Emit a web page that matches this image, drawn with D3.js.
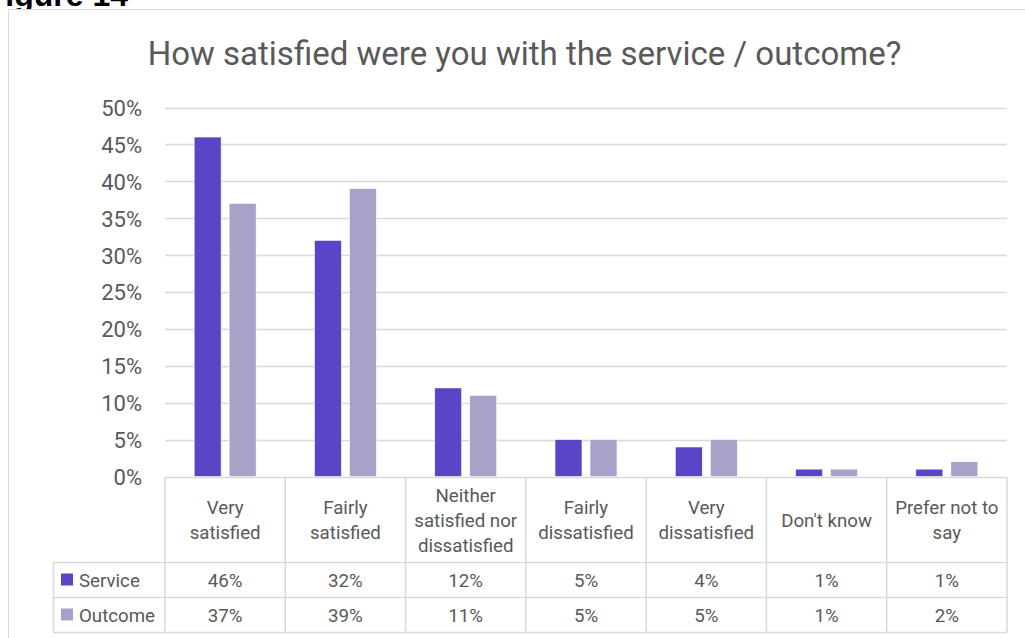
<!DOCTYPE html>
<html>
<head>
<meta charset="utf-8">
<script src="https://cdn.jsdelivr.net/npm/d3@7"></script>
<style>
  html, body { margin: 0; padding: 0; background: #fff; }
  svg { display: block; }
  text { font-family: Roboto, "Liberation Sans", Arial, sans-serif; fill: #595959; }
</style>
</head>
<body>
<svg id="chart" width="1025" height="638"></svg>
<script>
// Survey responses, share of respondents
const categories = [
  ["Very", "satisfied"],
  ["Fairly", "satisfied"],
  ["Neither", "satisfied nor", "dissatisfied"],
  ["Fairly", "dissatisfied"],
  ["Very", "dissatisfied"],
  ["Don't know"],
  ["Prefer not to", "say"]
];
const seriesNames = ["Service", "Outcome"];
const serviceValues = [46, 32, 12, 5, 4, 1, 1];
const outcomeValues = [37, 39, 11, 5, 5, 1, 2];
const yTicks = [0, 5, 10, 15, 20, 25, 30, 35, 40, 45, 50];
const titleText = "How satisfied were you with the service / outcome?";
const figureLabel = "Figure 14";

const colors = { Service: "#5B45C7", Outcome: "#A7A2C8" };
const grid = "#d9d9d9";
const tableFont = "18.7px";

const svg = d3.select("#chart");

// Caption above the chart frame (page scrolled so only its lower edge shows)
svg.append("text")
  .attr("x", 128).attr("y", 6)
  .attr("text-anchor", "end")
  .style("font-family", "'Liberation Sans', Arial, sans-serif")
  .style("font-weight", "bold")
  .style("font-size", "32px")
  .style("fill", "#000")
  .text(figureLabel);

// Chart frame
svg.append("rect")
  .attr("x", 8.5).attr("y", 9.5)
  .attr("width", 1100).attr("height", 700)
  .attr("fill", "#fff")
  .attr("stroke", grid).attr("stroke-width", 1);

// Title
svg.append("text")
  .attr("x", 524.5).attr("y", 65)
  .attr("text-anchor", "middle")
  .style("font-size", "33px")
  .text(titleText);

const plotLeft = 165, plotRight = 1007;
const y = d3.scaleLinear().domain([0, 50]).range([476.5, 107.5]);
const x0 = d3.scaleBand().domain(d3.range(categories.length)).range([plotLeft, plotRight]).padding(0);
const x1 = d3.scaleBand().domain(seriesNames).range([0, x0.bandwidth()])
  .paddingInner(0.2286).paddingOuter(0.833);

// Gridlines
svg.append("g")
  .selectAll("line")
  .data(yTicks.filter(t => t > 0))
  .join("line")
  .attr("x1", plotLeft).attr("x2", plotRight)
  .attr("y1", d => Math.round(y(d)) + 0.5).attr("y2", d => Math.round(y(d)) + 0.5)
  .attr("stroke", grid).attr("stroke-width", 1.3);

// Y axis labels
const yAxis = d3.axisLeft(y).tickValues(yTicks).tickFormat(d => d + "%").tickSize(0).tickPadding(0);
const yg = svg.append("g").attr("transform", "translate(142,0)").call(yAxis);
yg.select(".domain").remove();
yg.selectAll("text")
  .attr("dy", "0.36em")
  .style("font-size", "22px")
  .style("font-family", "Roboto, 'Liberation Sans', Arial, sans-serif")
  .attr("fill", "#595959");

// Bars
const rows = categories.map((c, i) => ({ i, Service: serviceValues[i], Outcome: outcomeValues[i] }));
const groups = svg.append("g").selectAll("g")
  .data(rows).join("g")
  .attr("transform", d => `translate(${x0(d.i)},0)`);
groups.selectAll("rect")
  .data(d => seriesNames.map(s => ({ s, v: d[s] })))
  .join("rect")
  .attr("x", d => x1(d.s))
  .attr("width", x1.bandwidth())
  .attr("y", d => y(d.v))
  .attr("height", d => y(0) - y(d.v))
  .attr("fill", d => colors[d.s])
  .attr("stroke", "#fff").attr("stroke-width", 0.6);

// Data table below the plot
const tableTop = 477.5, headerBottom = 562.5, rowH = 35;
const legendLeft = 53.5;
const tableBottom = headerBottom + rowH * seriesNames.length;
const tg = svg.append("g").attr("stroke", grid).attr("stroke-width", 1.5);

// horizontal rules
tg.append("line").attr("x1", plotLeft).attr("x2", plotRight).attr("y1", tableTop).attr("y2", tableTop);
d3.range(seriesNames.length + 1).forEach(k => {
  const yy = headerBottom + k * rowH;
  tg.append("line").attr("x1", legendLeft).attr("x2", plotRight).attr("y1", yy).attr("y2", yy);
});
// vertical rules
d3.range(categories.length + 1).forEach(k => {
  const xx = k < categories.length ? x0(k) : plotRight;
  tg.append("line").attr("x1", xx).attr("x2", xx).attr("y1", tableTop).attr("y2", tableBottom);
});
tg.append("line").attr("x1", legendLeft).attr("x2", legendLeft).attr("y1", headerBottom).attr("y2", tableBottom);

// header labels
const lineH = 25;
categories.forEach((lines, i) => {
  const cx = x0(i) + x0.bandwidth() / 2;
  const cy = (tableTop + headerBottom) / 2;
  const t = svg.append("text")
    .attr("text-anchor", "middle")
    .style("font-size", tableFont);
  lines.forEach((ln, j) => {
    t.append("tspan")
      .attr("x", cx)
      .attr("y", cy + (j - (lines.length - 1) / 2) * lineH)
      .attr("dy", "0.35em")
      .text(ln);
  });
});

// value rows with legend keys
const seriesData = { Service: serviceValues, Outcome: outcomeValues };
seriesNames.forEach((s, r) => {
  const cy = headerBottom + r * rowH + rowH / 2;
  svg.append("rect")
    .attr("x", 61).attr("y", cy - 6.5)
    .attr("width", 12).attr("height", 12)
    .attr("fill", colors[s]);
  svg.append("text")
    .attr("x", 79).attr("y", cy).attr("dy", "0.35em")
    .style("font-size", tableFont)
    .text(s);
  seriesData[s].forEach((v, i) => {
    svg.append("text")
      .attr("x", x0(i) + x0.bandwidth() / 2)
      .attr("y", cy).attr("dy", "0.35em")
      .attr("text-anchor", "middle")
      .style("font-size", tableFont)
      .text(v + "%");
  });
});
</script>
</body>
</html>
